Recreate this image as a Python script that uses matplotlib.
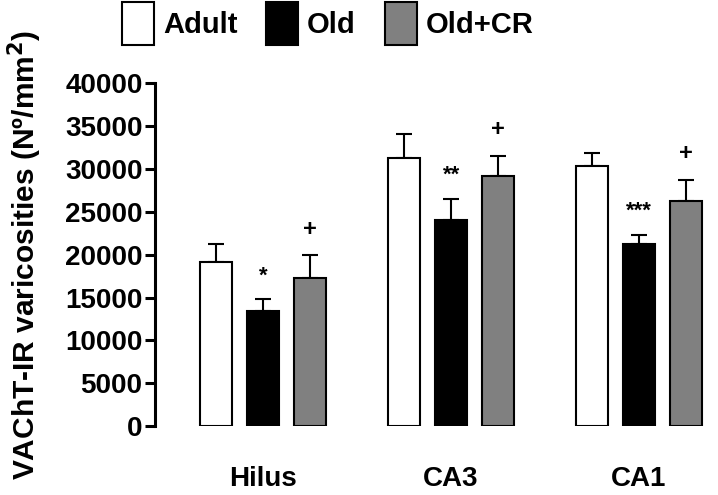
import matplotlib
matplotlib.use("Agg")
from matplotlib import pyplot as plt
from matplotlib.patches import Patch
import numpy as np

plt.rcParams['font.family'] = ['Liberation Sans', 'DejaVu Sans']
plt.rcParams['font.weight'] = 'bold'

regions = ["Hilus", "CA3", "CA1"]
groups = ["Adult", "Old", "Old+CR"]
colors = ["white", "black", "#808080"]

adult = [19100, 31300, 30300]
adult_err = [2200, 2750, 1600]
old = [13400, 24100, 21250]
old_err = [1400, 2400, 1100]
oldcr = [17300, 29150, 26300]
oldcr_err = [2650, 2350, 2450]

old_marks = ["*", "**", "***"]
oldcr_marks = ["+", "+", "+"]

means = [adult, old, oldcr]
errs = [adult_err, old_err, oldcr_err]

fig = plt.figure(figsize=(7.18, 4.95), dpi=100)
ax = fig.add_axes([0.216, 0.139, 0.784, 0.693])

x = np.arange(len(regions)) * 4.0
for i in range(3):
    ax.bar(x + (i - 1), means[i], width=0.67, color=colors[i], edgecolor='black',
           linewidth=1.5, zorder=2)
    ax.errorbar(x + (i - 1), means[i], yerr=[np.zeros(3), errs[i]], fmt='none',
                ecolor='black', elinewidth=1.5, capsize=5.5, capthick=1.5, zorder=1)

for j in range(3):
    top = old[j] + old_err[j]
    ax.text(x[j], top + 1500, old_marks[j], ha='center', va='bottom', fontsize=16)
    top = oldcr[j] + oldcr_err[j]
    ax.text(x[j] + 1, top + 1700, oldcr_marks[j], ha='center', va='bottom', fontsize=17)

ax.set_xlim(-2.3, 9.68)
ax.set_ylim(0, 40000)
ax.set_yticks(np.arange(0, 40001, 5000))
ax.set_xticks(x)
ax.set_xticklabels(regions, fontsize=20, fontweight='bold')
ax.tick_params(axis='x', length=0, pad=29)
ax.tick_params(axis='y', length=7, width=2.2, labelsize=20, pad=2)
for lab in ax.get_yticklabels():
    lab.set_fontweight('bold')
for s in ['top', 'right', 'bottom']:
    ax.spines[s].set_visible(False)
ax.spines['left'].set_linewidth(2.2)
ax.set_ylabel("VAChT-IR varicosities (Nº/mm$^\\mathbf{2}$)", fontsize=21.5, fontweight='bold', labelpad=15)

handles = [Patch(facecolor=c, edgecolor='black', linewidth=1.5) for c in colors]
fig.legend(handles, groups, loc='upper left', bbox_to_anchor=(122 / 718, 1 - 2 / 495), ncol=3,
           frameon=False, prop={'weight': 'bold', 'size': 21},
           handlelength=1.1, handleheight=1.89,
           handletextpad=0.3, columnspacing=0.99, borderpad=0, borderaxespad=0)

plt.savefig("out.png", dpi=100)
